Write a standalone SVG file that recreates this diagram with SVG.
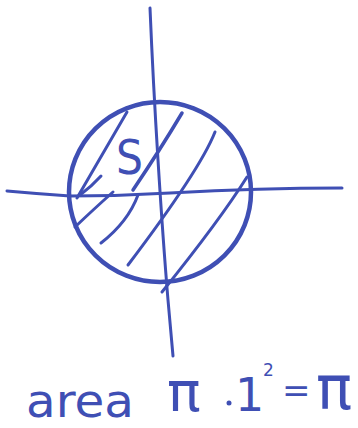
<svg xmlns="http://www.w3.org/2000/svg" width="358" height="428" viewBox="0 0 358 428">
<style>
.s{fill:none;stroke:#3f4fb4;stroke-linecap:round;stroke-linejoin:round}
.t{fill:#3f4fb4;font-family:"DejaVu Sans","Liberation Sans",sans-serif}
</style>
<rect width="358" height="428" fill="#fff"/>
<ellipse class="s" cx="160" cy="192" rx="91" ry="90" stroke-width="4.5"/>
<path class="s" stroke-width="3" d="M150,8 Q153,80 158,160 T168,300 L173,356"/>
<path class="s" stroke-width="3" d="M7,191 Q40,194 70,196 Q120,196 170,193 Q260,188 342,188"/>
<g class="s" stroke-width="3">
<path d="M127,112 L77,198"/>
<path d="M101,176 Q92,186 80,195"/>
<path d="M113,192 Q95,208 75,227"/>
<path d="M182,113 Q160,150 133,190" stroke-width="3.5"/>
<path d="M138,195 Q128,222 101,243"/>
<path d="M215,132 Q200,170 128,265"/>
<path d="M247,177 Q220,220 162,292"/>
</g>
<text class="t" x="116" y="174" font-size="48" textLength="27" lengthAdjust="spacingAndGlyphs">S</text>
<text class="t" x="26" y="417" font-size="46" textLength="108" lengthAdjust="spacingAndGlyphs">area</text>
<text class="t" x="167" y="411" font-size="56">π</text>
<circle cx="229" cy="403" r="2.5" fill="#3f4fb4"/>
<text class="t" x="235" y="411" font-size="46">1</text>
<text class="t" x="263" y="376" font-size="17">2</text>
<text class="t" x="282" y="402" font-size="34">=</text>
<text class="t" x="316" y="409" font-size="60">π</text>
</svg>
